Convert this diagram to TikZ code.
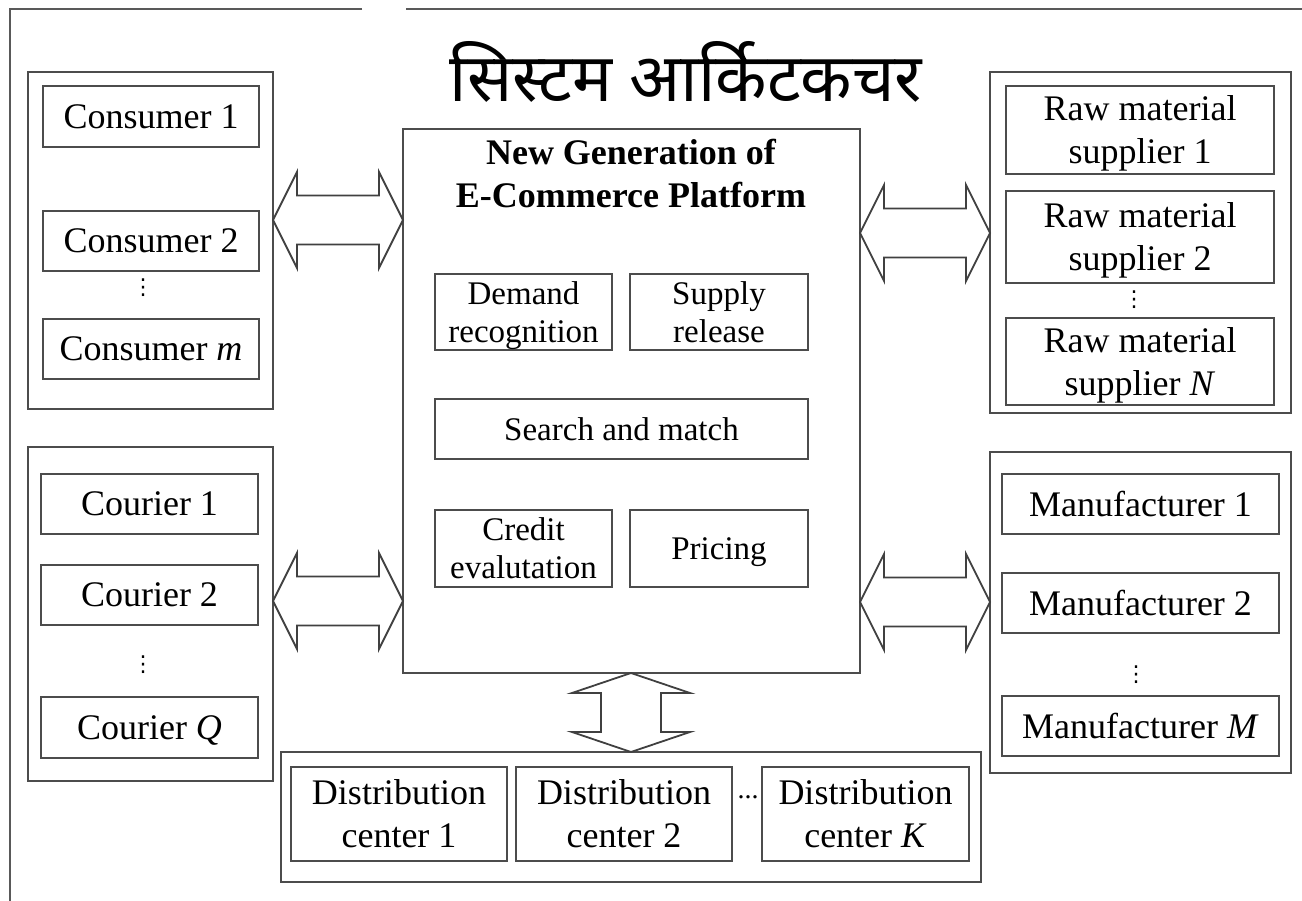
\documentclass[tikz,border=0pt]{standalone}
\usepackage{fontspec}
\setmainfont{Liberation Serif}
\newfontfamily\devafont[Script=Devanagari]{Noto Sans}
\newfontfamily\symfont{DejaVu Sans}
\usetikzlibrary{calc}
\tikzset{
  outerbox/.style={draw=black!70, line width=1.8pt, inner sep=0pt, outer sep=0pt},
  itembox/.style={draw=black!70, line width=1.8pt, inner sep=0pt, outer sep=0pt, align=center, text depth=0pt, font=\fontsize{36}{43}\selectfont},
  funcbox/.style={draw=black!70, line width=1.8pt, inner sep=0pt, outer sep=0pt, align=center, text depth=0pt, font=\fontsize{33}{38}\selectfont},
  blockarrow/.style={draw=black!75, line width=1.8pt, fill=white, line join=miter},
  framebar/.style={draw=black!65, line width=2pt},
  vdotsnode/.style={inner sep=0pt, font=\symfont\fontsize{22}{22}\selectfont},
  hdotsnode/.style={inner sep=0pt, font=\fontsize{28}{28}\selectfont}
}
\newcommand\mybox[7]{%
  \pgfmathsetmacro\bw{#5-#3}\pgfmathsetmacro\bh{#6-#4}%
  \node[#1, minimum width=\bw pt, minimum height=\bh pt] (#2) at ({(#3+#5)/2},{(#4+#6)/2}) {#7};}
\newcommand\hdarrow[2]{%
  \draw[blockarrow] (#1) -- ($(#1)+(24,-48)$) -- ($(#1)+(24,-24.5)$) -- ($(#2)+(-24,-24.5)$)
    -- ($(#2)+(-24,-48)$) -- (#2) -- ($(#2)+(-24,48)$) -- ($(#2)+(-24,24.5)$)
    -- ($(#1)+(24,24.5)$) -- ($(#1)+(24,48)$) -- cycle;}
\newcommand\vdarrow[2]{%
  \draw[blockarrow] (#1) -- ($(#1)+(59,20)$) -- ($(#1)+(30,20)$) -- ($(#2)+(30,-20)$)
    -- ($(#2)+(59,-20)$) -- (#2) -- ($(#2)+(-59,-20)$) -- ($(#2)+(-30,-20)$)
    -- ($(#1)+(-30,20)$) -- ($(#1)+(-59,20)$) -- cycle;}
\begin{document}
\begin{tikzpicture}[x=1pt,y=-1pt]
\useasboundingbox (0,0) rectangle (1302,901);
% frame
\draw[framebar] (362,9) -- (10,9) -- (10,901);
\draw[framebar] (406,9) -- (1302,9);
% title
\node[inner sep=0pt] (title) at (686,72) {\devafont\fontsize{67}{67}\selectfont सिस्टम आर्किटकचर};
% left top group
\mybox{outerbox}{lg1}{28}{72}{273}{409}{}
\mybox{itembox}{c1}{43}{86}{259}{147}{Consumer 1}
\mybox{itembox}{c2}{43}{211}{259}{271}{Consumer 2}
\mybox{itembox}{cm}{43}{319}{259}{379}{Consumer \textit{m}}
\node[vdotsnode] (cdots) at (143,288) {⋮};
% left bottom group
\mybox{outerbox}{lg2}{28}{447}{273}{781}{}
\mybox{itembox}{k1}{41}{474}{258}{534}{Courier 1}
\mybox{itembox}{k2}{41}{565}{258}{625}{Courier 2}
\mybox{itembox}{kq}{41}{697}{258}{758}{Courier \textit{Q}}
\node[vdotsnode] (kdots) at (143,665) {⋮};
% platform
\mybox{outerbox}{plat}{403}{129}{860}{673}{}
\node[align=center, inner sep=0pt, font=\fontsize{36}{43}\selectfont\bfseries] (plattitle) at (631,174) {New Generation of\\E-Commerce Platform};
\mybox{funcbox}{dr}{435}{274}{612}{350}{Demand\\recognition}
\mybox{funcbox}{sr}{630}{274}{808}{350}{Supply\\release}
\mybox{funcbox}{sm}{435}{399}{808}{459}{Search and match}
\mybox{funcbox}{ce}{435}{510}{612}{587}{Credit\\evalutation}
\mybox{funcbox}{pr}{630}{510}{808}{587}{Pricing}
% right top group
\mybox{outerbox}{rg1}{990}{72}{1291}{413}{}
\mybox{itembox}{r1}{1006}{86}{1274}{174}{Raw material\\supplier 1}
\mybox{itembox}{r2}{1006}{191}{1274}{283}{Raw material\\supplier 2}
\mybox{itembox}{rn}{1006}{318}{1274}{405}{Raw material\\supplier \textit{N}}
\node[vdotsnode] (rdots) at (1134,300) {⋮};
% right bottom group
\mybox{outerbox}{rg2}{990}{452}{1291}{773}{}
\mybox{itembox}{m1}{1002}{474}{1279}{534}{Manufacturer 1}
\mybox{itembox}{m2}{1002}{573}{1279}{633}{Manufacturer 2}
\mybox{itembox}{mm}{1002}{696}{1279}{756}{Manufacturer \textit{M}}
\node[vdotsnode] (mdots) at (1136,675) {⋮};
% distribution group
\mybox{outerbox}{dg}{281}{752}{981}{882}{}
\mybox{itembox}{d1}{291}{767}{507}{861}{Distribution\\center 1}
\mybox{itembox}{d2}{516}{767}{732}{861}{Distribution\\center 2}
\mybox{itembox}{dk}{762}{767}{969}{861}{Distribution\\center \textit{K}}
\node[hdotsnode] (ddots) at (748,797) {...};
% block arrows
\coordinate (a1l) at (lg1.east |- 0,220);
\coordinate (a1r) at (plat.west |- 0,220);
\hdarrow{a1l}{a1r}
\coordinate (a2l) at (lg2.east |- 0,601);
\coordinate (a2r) at (plat.west |- 0,601);
\hdarrow{a2l}{a2r}
\coordinate (a3l) at (plat.east |- 0,233);
\coordinate (a3r) at (rg1.west |- 0,233);
\hdarrow{a3l}{a3r}
\coordinate (a4l) at (plat.east |- 0,602);
\coordinate (a4r) at (rg2.west |- 0,602);
\hdarrow{a4l}{a4r}
\coordinate (a5t) at (plat.south -| 631,0);
\coordinate (a5b) at (dg.north -| 631,0);
\vdarrow{a5t}{a5b}
\end{tikzpicture}
\end{document}
